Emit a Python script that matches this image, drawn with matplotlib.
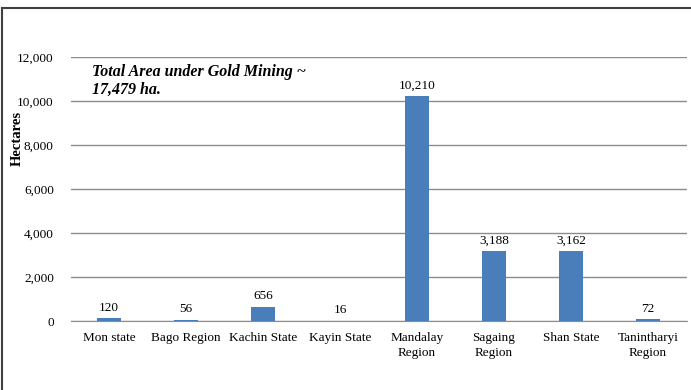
import numpy as np
import matplotlib.pyplot as plt
from matplotlib.lines import Line2D

regions = ['Mon state', 'Bago Region', 'Kachin State', 'Kayin State',
           'Mandalay\nRegion', 'Sagaing\nRegion', 'Shan State',
           'Tanintharyi\nRegion']
hectares = [120, 56, 656, 16, 10210, 3188, 3162, 72]
yticks = [0, 2000, 4000, 6000, 8000, 10000, 12000]

plt.rcParams['font.family'] = ['Liberation Serif', 'DejaVu Serif']

fig = plt.figure(figsize=(6.91, 3.90), dpi=100)
ax = fig.add_axes([70.5 / 691, 1 - 321 / 390, 616 / 691, 264 / 390])

x = np.arange(len(regions))
ax.bar(x, hectares, width=0.31, color='#4A7EBB', zorder=3)
for xi, v in zip(x, hectares):
    ax.text(xi, v + 200, f'{v:,}', ha='center', va='bottom', fontsize=9.5)

ax.set_xlim(-0.5, len(regions) - 0.5)
ax.set_ylim(0, 12000)
ax.set_yticks(yticks)
ax.set_yticklabels([f'{t:,}' for t in yticks], fontsize=9.5)
ax.set_xticks(x)
ax.set_xticklabels(regions, fontsize=9.5, linespacing=1.3)
ax.tick_params(length=0, pad=8)
ax.tick_params(axis='y', pad=12)
ax.grid(axis='y', color='#8C8C8C', linewidth=1, zorder=0)
for s in ['top', 'right', 'left']:
    ax.spines[s].set_visible(False)
ax.spines['bottom'].set_color('#8C8C8C')

ax.set_ylabel('Hectares', fontsize=10.5, fontweight='bold')
ax.yaxis.set_label_coords(-0.076, 0.69)
ax.text(0.035, 0.975, 'Total Area under Gold Mining ~\n17,479 ha.',
        transform=ax.transAxes, fontsize=11.5, fontweight='bold',
        fontstyle='italic', va='top', ha='left', linespacing=1.2)

# outer frame (top and left edges visible)
fig.add_artist(Line2D([2 / 691, 2 / 691], [0, 1 - 8 / 390], color='#404040',
                      lw=1.5, transform=fig.transFigure))
fig.add_artist(Line2D([2 / 691, 1], [1 - 8 / 390, 1 - 8 / 390], color='#404040',
                      lw=1.5, transform=fig.transFigure))

fig.savefig('out.png', dpi=100)
